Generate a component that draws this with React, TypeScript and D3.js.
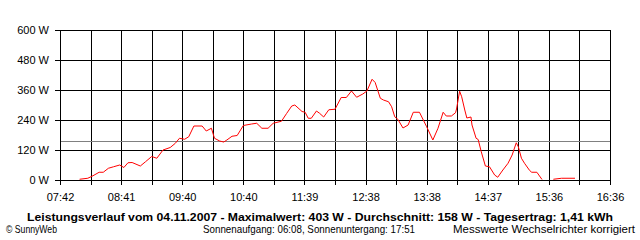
import React from "react";
import * as d3 from "d3";

const times = [
  "08:01","08:09","08:14","08:20","08:24","08:29","08:34","08:40","08:44","08:48","08:52","09:00","09:05","09:11","09:16","09:22","09:29","09:34","09:38","09:43","09:47","09:52","10:00","10:04","10:09","10:12","10:17","10:21","10:24","10:29","10:34","10:40","10:48","10:53","10:58","11:04","11:09","11:17","11:22","11:27","11:30","11:37","11:40","11:43","11:46","11:51","11:54","11:58","12:03","12:09","12:15","12:20","12:25","12:30","12:36","12:40","12:45","12:48","12:53","12:56","13:01","13:04","13:07","13:10","13:15","13:20","13:25","13:31","13:38","13:44","13:49","13:54","13:57","14:02","14:06","14:07","14:09","14:10","14:12","14:15","14:17","14:21","14:22","14:26","14:28","14:31","14:35","14:39","14:44","14:47","14:52","14:57","15:01","15:05","15:07","15:10","15:13","15:18","15:20","15:25","15:30","15:35","15:41","15:49","16:02","16:04"
];
const watts = [
  3,7,17,31,31,47,53,60,50,69,70,56,73,94,87,120,130,147,167,163,173,216,216,196,207,167,156,152,160,175,178,218,224,227,207,207,227,235,266,296,300,274,271,247,247,276,267,252,281,283,330,330,356,331,344,356,403,390,327,320,313,293,253,243,208,220,271,271,213,160,207,271,256,256,269,284,332,355,333,280,248,252,220,167,162,113,56,53,20,11,40,67,100,149,133,87,67,38,31,31,2,0,3,7,7,0
];
const yTicks = [0, 120, 240, 360, 480, 600];
const xLabels = ["07:42","08:41","09:40","10:40","11:39","12:38","13:38","14:37","15:36","16:36"];
const average = 158;
const title = "Leistungsverlauf vom 04.11.2007 - Maximalwert: 403 W - Durchschnitt: 158 W - Tagesertrag: 1,41 kWh";
const footerLeft = "\u00A9 SunnyWeb";
const footerMid = "Sonnenaufgang: 06:08, Sonnenuntergang: 17:51";
const footerRight = "Messwerte Wechselrichter korrigiert";

const toMin = (s: string) => {
  const [h, m] = s.split(":").map(Number);
  return h * 60 + m;
};

export default function App() {
  const W = 640, H = 240;
  const left = 60, right = 610, top = 30, bottom = 180;
  const t0 = toMin("07:42"), t1 = toMin("16:36");
  const x = d3.scaleLinear().domain([t0, t1]).range([left, right]);
  const y = d3.scaleLinear().domain([0, 600]).range([bottom, top]);
  const font = "'Liberation Sans', Arial, sans-serif";

  const pts = times.map((t, i) => ({ t: toMin(t), w: watts[i] }));
  const line = d3
    .line<{ t: number; w: number }>()
    .defined((d) => d.w > 0.5)
    .x((d) => x(d.t))
    .y((d) => y(d.w));

  const nV = 18;
  const vLines = d3.range(nV + 1).map((i) => Math.round(left + ((right - left) * i) / nV));

  return (
    <svg width={W} height={H} style={{ position: "absolute", left: 0, top: 0, background: "#fff" }}>
      <rect x={0} y={0} width={W} height={H} fill="#fff" />
      {vLines.map((vx, i) => (
        <line key={"v" + i} x1={vx + 0.5} x2={vx + 0.5} y1={top} y2={bottom + 5} stroke="#000" strokeWidth={1} shapeRendering="crispEdges" />
      ))}
      {yTicks.map((v) => (
        <line key={"h" + v} x1={left - 5} x2={right + 1} y1={Math.round(y(v)) + 0.5} y2={Math.round(y(v)) + 0.5} stroke="#000" strokeWidth={1} shapeRendering="crispEdges" />
      ))}
      <line x1={left + 1} x2={right} y1={Math.round(y(average)) + 0.5} y2={Math.round(y(average)) + 0.5} stroke="#808080" strokeWidth={1} shapeRendering="crispEdges" />
      <path d={line(pts) || ""} fill="none" stroke="#ff0000" strokeWidth={1} />
      {yTicks.map((v) => (
        <text key={"yl" + v} x={49} y={y(v) + 4} textAnchor="end" fontFamily={font} fontSize={11} fill="#000">
          {v + " W"}
        </text>
      ))}
      {xLabels.map((l, i) => (
        <text key={"xl" + i} x={x(t0 + ((t1 - t0) * i) / (xLabels.length - 1)) + 0.5} y={201} textAnchor="middle" fontFamily={font} fontSize={11} fill="#000">
          {l}
        </text>
      ))}
      <text x={320} y={221} textAnchor="middle" fontFamily={font} fontSize={11} fontWeight="bold" fill="#000" textLength={586} lengthAdjust="spacingAndGlyphs">
        {title}
      </text>
      <text x={6} y={233} fontFamily={font} fontSize={11} fill="#000" textLength={51} lengthAdjust="spacingAndGlyphs">
        {footerLeft}
      </text>
      <text x={309} y={233} textAnchor="middle" fontFamily={font} fontSize={11} fill="#000" textLength={212} lengthAdjust="spacingAndGlyphs">
        {footerMid}
      </text>
      <text x={635} y={233} textAnchor="end" fontFamily={font} fontSize={11} fill="#000" textLength={182} lengthAdjust="spacingAndGlyphs">
        {footerRight}
      </text>
    </svg>
  );
}
